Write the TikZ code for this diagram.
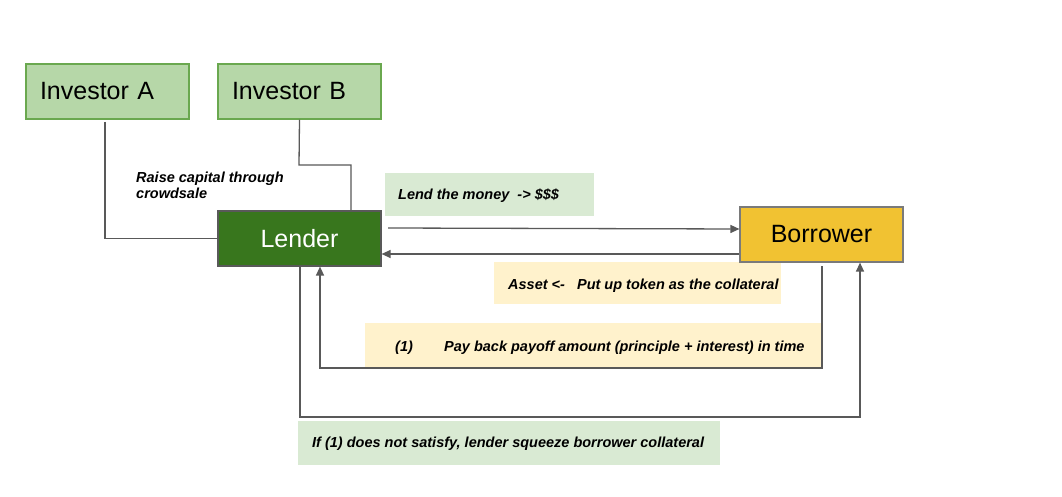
\documentclass[tikz,border=0pt]{standalone}
\usepackage{fontspec}
\setmainfont{Liberation Sans}
\usetikzlibrary{arrows.meta}
\definecolor{invfill}{HTML}{B6D7A8}
\definecolor{invdraw}{HTML}{6AA84F}
\definecolor{lendfill}{HTML}{38761D}
\definecolor{borfill}{HTML}{F1C232}
\definecolor{linegray}{HTML}{595959}
\definecolor{greenlab}{HTML}{D9EAD3}
\definecolor{yellowlab}{HTML}{FFF2CC}
\tikzset{
  party/.style={draw, line width=1.2pt, minimum width=163pt, minimum height=55pt, inner sep=0pt, font=\fontsize{25}{29}\selectfont},
  invbox/.style={party, fill=invfill, draw=invdraw, text width=135pt, align=left},
  conn/.style={draw=linegray, line width=1.3pt},
  arr/.style={conn, -{Triangle[length=9pt,width=8pt]}},
  plain/.style={font=\fontsize{14.5}{17}\selectfont\bfseries\itshape, inner sep=0pt, align=left}
}
\begin{document}
\begin{tikzpicture}[x=1pt,y=-1pt]
\useasboundingbox (0,0) rectangle (1062,497);
\fill[white] (0,0) rectangle (1062,497);
% label boxes
\fill[greenlab] (385,173) rectangle (594,216);
\fill[yellowlab] (494,262) rectangle (781,304);
\fill[yellowlab] (365,323) rectangle (823,367);
\fill[greenlab] (298,421) rectangle (720,465);
% parties
\node[invbox] (ia) at (107.5,91.5) {Investor A};
\node[invbox] (ib) at (299.5,91.5) {Investor B};
\node[party, fill=lendfill, draw=linegray, text=white] (len) at (299.5,238.5) {Lender};
\node[party, fill=borfill, draw=linegray!80] (bor) at (821.5,234.5) {Borrower};
% connectors
\coordinate (ia1) at (105,122);
\draw[conn] (ia1) |- (len.west);
\draw[conn] (ib.south) -- (299,165) -| (351,211);
\coordinate (l1) at (388,228);
\draw[arr] (l1) -- (bor.west |- 0,229);
\draw[arr] (bor.west |- 0,254) -- (len.east |- 0,254);
\coordinate (p1) at (822,266);
\draw[arr] (p1) |- (320,368) -- (len.south -| 320,0);
\coordinate (s1) at (300,266);
\draw[arr] (s1) |- (860,417) -- (bor.south -| 860,0);
% texts
\node[plain, anchor=base west] (t1) at (136,199) {Raise capital through\\crowdsale};
\node[plain, anchor=base west] (t2) at (398,200) {Lend the money\ \ -> \$\$\$};
\node[plain, anchor=base west] (t3) at (508,289) {Asset <-\ \ \ Put up token as the collateral};
\node[plain, anchor=base west] (t4a) at (395,351) {(1)};
\node[plain, anchor=base west] (t4) at (444,351) {Pay back payoff amount (principle + interest) in time};
\node[plain, anchor=base west] (t5) at (312,447) {If (1) does not satisfy, lender squeeze borrower collateral};
\end{tikzpicture}
\end{document}
